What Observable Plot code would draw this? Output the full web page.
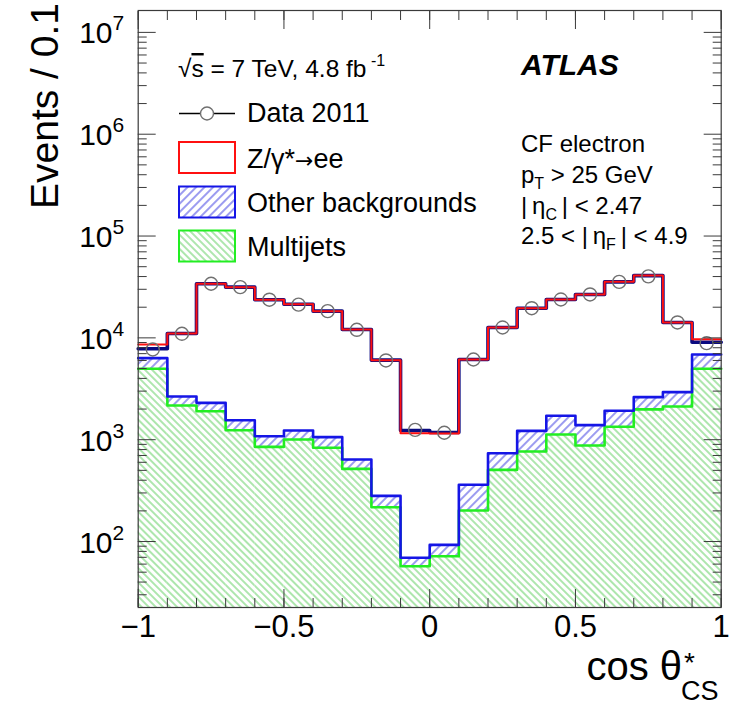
<!DOCTYPE html>
<html><head><meta charset="utf-8">
<script src="https://cdn.jsdelivr.net/npm/d3@7"></script>
<script src="https://cdn.jsdelivr.net/npm/@observablehq/plot@0.6"></script>
<style>html,body{margin:0;padding:0;background:#fff;} svg{display:block;}</style>
</head><body><div id="chart"></div>
<script>
// ---- data ----
const binEdges = [-1,-0.9,-0.8,-0.7,-0.6,-0.5,-0.4,-0.3,-0.2,-0.1,0,0.1,0.2,0.3,0.4,0.5,0.6,0.7,0.8,0.9,1];
const dataCounts = [7690,10970,34000,31500,23700,21200,18300,12000,6000,1250,1170,6130,12650,19570,23830,26700,35500,40200,14170,8870];
const zTop      = [8610,11040,34000,31500,23700,21400,18300,12090,6040,1160,1150,6130,12650,19570,23830,26700,35500,40900,14170,9700];
const mcTotal   = [7810,11040,34000,31500,23700,21400,18300,12090,6040,1230,1175,6130,12650,19570,23830,26700,35500,40900,14170,9070];
const otherTop  = [6320,2660,2300,1555,1081,1230,1060,639,281,69.2,92.7,361,737,1222,1717,1390,1922,2617,2930,6870];
const multijet  = [4970,2170,1905,1240,851,1005,833,517,217,57.2,71.8,202,506,766,1125,877,1339,1984,2120,4970];
const xMajorTicks = [-1,-0.5,0,0.5,1];
const xTickLabels = ["−1","−0.5","0","0.5","1"];
const yMajorTicks = [1e2,1e3,1e4,1e5,1e6,1e7];
const yDomain = [22.5, 1.64e7];

const yMinorTicks = [];
for (let e = 1; e <= 7; e++) for (let m = 2; m <= 9; m++) {
  const v = m * Math.pow(10, e);
  if (v > yDomain[0] && v < yDomain[1]) yMinorTicks.push(v);
}

const bins = multijet.map((v, i) => ({
  x1: binEdges[i], x2: binEdges[i+1], xc: (binEdges[i] + binEdges[i+1]) / 2,
  data: dataCounts[i], z: zTop[i], total: mcTotal[i], other: otherTop[i], mj: v
}));
const steps = key => bins.flatMap(b => [{x: b.x1, y: b[key]}, {x: b.x2, y: b[key]}]);

const FONT = "'Liberation Sans', Arial, Helvetica, sans-serif";
const frameC = "#3a3a3a";

const chart = Plot.plot({
  width: 731, height: 707,
  marginLeft: 137.7, marginRight: 10.3, marginTop: 10, marginBottom: 100,
  style: {fontFamily: FONT, background: "white", color: "black"},
  x: {domain: [-1, 1]},
  y: {type: "log", domain: yDomain},
  marks: [
    Plot.rect(bins, {x1: "x1", x2: "x2", y1: yDomain[0], y2: "mj", fill: "url(#hatchGreen)"}),
    Plot.rect(bins, {x1: "x1", x2: "x2", y1: "mj", y2: "other", fill: "url(#hatchBlue)"}),
    Plot.line(steps("mj"), {x: "x", y: "y", stroke: "#22ee22", strokeWidth: 2.6}),
    Plot.line(steps("other"), {x: "x", y: "y", stroke: "#1515e6", strokeWidth: 2.6}),
    Plot.line(steps("total"), {x: "x", y: "y", stroke: "#0a0a80", strokeWidth: 3.6}),
    Plot.line(steps("z"), {x: "x", y: "y", stroke: "#ff1010", strokeWidth: 2}),
    Plot.dot(bins, {x: "xc", y: "data", r: 6.5, stroke: "#707070", strokeWidth: 1.4, fill: "none"}),
    // ticks (inward, all four sides)
    Plot.axisX({anchor: "bottom", ticks: binEdges, tickSize: -9, fill: "none", label: null, stroke: frameC}),
    Plot.axisX({anchor: "bottom", ticks: xMajorTicks, tickSize: -18, fill: "none", label: null, stroke: frameC}),
    Plot.axisX({anchor: "top", ticks: binEdges, tickSize: -9, fill: "none", label: null, stroke: frameC}),
    Plot.axisX({anchor: "top", ticks: xMajorTicks, tickSize: -18, fill: "none", label: null, stroke: frameC}),
    Plot.axisY({anchor: "left", ticks: yMinorTicks, tickSize: -9, fill: "none", label: null, stroke: frameC}),
    Plot.axisY({anchor: "left", ticks: yMajorTicks, tickSize: -18, fill: "none", label: null, stroke: frameC}),
    Plot.axisY({anchor: "right", ticks: yMinorTicks, tickSize: -9, fill: "none", label: null, stroke: frameC}),
    Plot.axisY({anchor: "right", ticks: yMajorTicks, tickSize: -18, fill: "none", label: null, stroke: frameC}),
    // tick labels
    Plot.axisX({anchor: "bottom", ticks: xMajorTicks, tickSize: 0, tickPadding: 7, label: null, fontSize: 31, fill: "black",
      tickFormat: d => xTickLabels[xMajorTicks.indexOf(d)]}),
    Plot.axisY({anchor: "left", ticks: yMajorTicks, tickSize: 0, tickPadding: 14, label: null, fontSize: 30, fill: "black",
      tickFormat: d => String(Math.round(Math.log10(d)))}),
    Plot.frame({stroke: frameC, strokeWidth: 1.2})
  ]
});
document.getElementById("chart").appendChild(chart);

const svg = d3.select(chart);
// hatch patterns
const defs = svg.insert("defs", ":first-child");
const pg = defs.append("pattern").attr("id", "hatchGreen").attr("patternUnits", "userSpaceOnUse")
  .attr("width", 5).attr("height", 5).attr("patternTransform", "rotate(-45)");
pg.append("rect").attr("width", 5).attr("height", 5).attr("fill", "white");
pg.append("line").attr("x1", 1).attr("y1", 0).attr("x2", 1).attr("y2", 5).attr("stroke", "#9fe29f").attr("stroke-width", 1.7);
const pb = defs.append("pattern").attr("id", "hatchBlue").attr("patternUnits", "userSpaceOnUse")
  .attr("width", 6).attr("height", 6).attr("patternTransform", "rotate(45)");
pb.append("rect").attr("width", 6).attr("height", 6).attr("fill", "white");
pb.append("line").attr("x1", 1).attr("y1", 0).attr("x2", 1).attr("y2", 6).attr("stroke", "#5a5ae6").attr("stroke-width", 1.2);

// y tick labels as 10^n
svg.selectAll('g[aria-label="y-axis tick label"] text').each(function() {
  const e = this.textContent;
  const t = d3.select(this);
  t.text("10").attr("dy", null).attr("y", null);
  t.attr("transform", (t.attr("transform") || "") + " translate(0,11)");
  t.append("tspan").attr("dy", -13).attr("font-size", 21).text(e);
});

const g = svg.append("g").attr("font-family", FONT).attr("fill", "black").attr("text-anchor", "start");
// axis titles
g.append("text").attr("transform", "translate(58,3) rotate(-90)").attr("text-anchor", "end")
  .attr("font-size", 39).text("Events / 0.1");
g.append("text").attr("x", 682).attr("y", 680).attr("text-anchor", "end").attr("font-size", 40).text("cos θ");
g.append("text").attr("x", 684).attr("y", 672).attr("font-size", 28).text("*");
g.append("text").attr("x", 681).attr("y", 700).attr("font-size", 27).text("CS");

// legend
const s1 = g.append("text").attr("x", 178).attr("y", 77).attr("font-size", 24.5);
s1.append("tspan").text("√");
s1.append("tspan").attr("text-decoration", "overline").text("s");
s1.append("tspan").text(" = 7 TeV, 4.8 fb");
s1.append("tspan").attr("dy", -11).attr("font-size", 16).text(" -1");

g.append("line").attr("x1", 179).attr("x2", 235).attr("y1", 113.5).attr("y2", 113.5).attr("stroke", "black").attr("stroke-width", 1.6);
g.append("circle").attr("cx", 207).attr("cy", 113.5).attr("r", 6.5).attr("fill", "white").attr("stroke", "#707070").attr("stroke-width", 1.4);
g.append("text").attr("x", 247).attr("y", 122).attr("font-size", 27).text("Data 2011");

g.append("rect").attr("x", 179).attr("y", 142).attr("width", 56).attr("height", 31).attr("fill", "white").attr("stroke", "#ff1010").attr("stroke-width", 2);
const zt = g.append("text").attr("x", 247).attr("y", 167.5).attr("font-size", 27);
zt.append("tspan").text("Z/γ*");
zt.append("tspan").attr("font-family", "'DejaVu Sans', sans-serif").attr("font-size", 22).text("→");
zt.append("tspan").text("ee");
g.append("rect").attr("x", 179).attr("y", 186.5).attr("width", 56).attr("height", 31).attr("fill", "url(#hatchBlue)").attr("stroke", "#1515e6").attr("stroke-width", 2);
g.append("text").attr("x", 247).attr("y", 211.5).attr("font-size", 27).text("Other backgrounds");
g.append("rect").attr("x", 179).attr("y", 230.5).attr("width", 56).attr("height", 31).attr("fill", "url(#hatchGreen)").attr("stroke", "#22ee22").attr("stroke-width", 2);
g.append("text").attr("x", 247).attr("y", 256).attr("font-size", 27).text("Multijets");

// ATLAS label and selection
g.append("text").attr("x", 521).attr("y", 75).attr("font-size", 30).attr("font-weight", "bold").attr("font-style", "italic").text("ATLAS");
g.append("text").attr("x", 521).attr("y", 151.5).attr("font-size", 24).text("CF electron");
const t2 = g.append("text").attr("x", 521).attr("y", 183).attr("font-size", 24);
t2.append("tspan").text("p");
t2.append("tspan").attr("dy", 6).attr("font-size", 16).text("T");
t2.append("tspan").attr("dy", -6).text(" > 25 GeV");
const t3 = g.append("text").attr("x", 521).attr("y", 214).attr("font-size", 24);
t3.append("tspan").text("|\u2009η");
t3.append("tspan").attr("dy", 6).attr("font-size", 16).text("C");
t3.append("tspan").attr("dy", -6).text("\u2009| < 2.47");
const t4 = g.append("text").attr("x", 521).attr("y", 244).attr("font-size", 24);
t4.append("tspan").text("2.5 < |\u2009η");
t4.append("tspan").attr("dy", 6).attr("font-size", 16).text("F");
t4.append("tspan").attr("dy", -6).text("\u2009| < 4.9");
</script>
</body></html>
